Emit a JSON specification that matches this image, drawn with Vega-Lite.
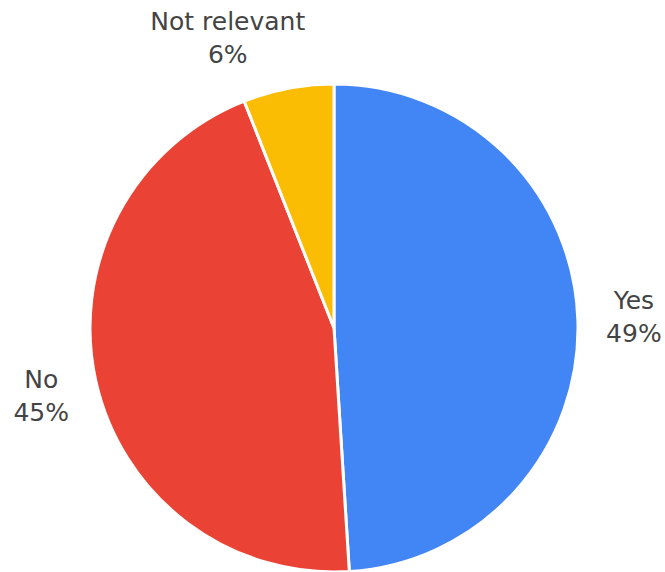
{
  "$schema": "https://vega.github.io/schema/vega-lite/v6.json",
  "width": 662,
  "height": 488,
  "autosize": "none",
  "padding": {"left": 3, "top": 84, "right": 0, "bottom": 0},
  "background": "white",
  "view": {"stroke": null},
  "data": {
    "values": [
      {"answer": "Yes", "value": 49, "label": ["Yes", "49%"]},
      {"answer": "No", "value": 45, "label": ["No", "45%"]},
      {"answer": "Not relevant", "value": 6, "label": ["Not relevant", "6%"]}
    ]
  },
  "encoding": {
    "theta": {"field": "value", "type": "quantitative", "stack": true},
    "order": {"field": "value", "type": "quantitative", "sort": "descending"},
    "color": {
      "field": "answer",
      "type": "nominal",
      "scale": {"domain": ["Yes", "No", "Not relevant"], "range": ["#4285F4", "#EA4335", "#FBBC04"]},
      "legend": null
    }
  },
  "layer": [
    {
      "mark": {"type": "arc", "outerRadius": 244, "stroke": "white", "strokeWidth": 3}
    },
    {
      "mark": {
        "type": "text",
        "radius": 300,
        "dx": {"expr": "datum.answer === 'Not relevant' ? -50 : 0"},
        "dy": {"expr": "datum.answer === 'Not relevant' ? -11 : (datum.answer === 'No' ? -13 : -18)"},
        "font": "DejaVu Sans",
        "fontSize": 25,
        "lineHeight": 33,
        "baseline": "middle",
        "align": "center"
      },
      "encoding": {"text": {"field": "label"}, "color": {"value": "#444444"}}
    }
  ]
}
